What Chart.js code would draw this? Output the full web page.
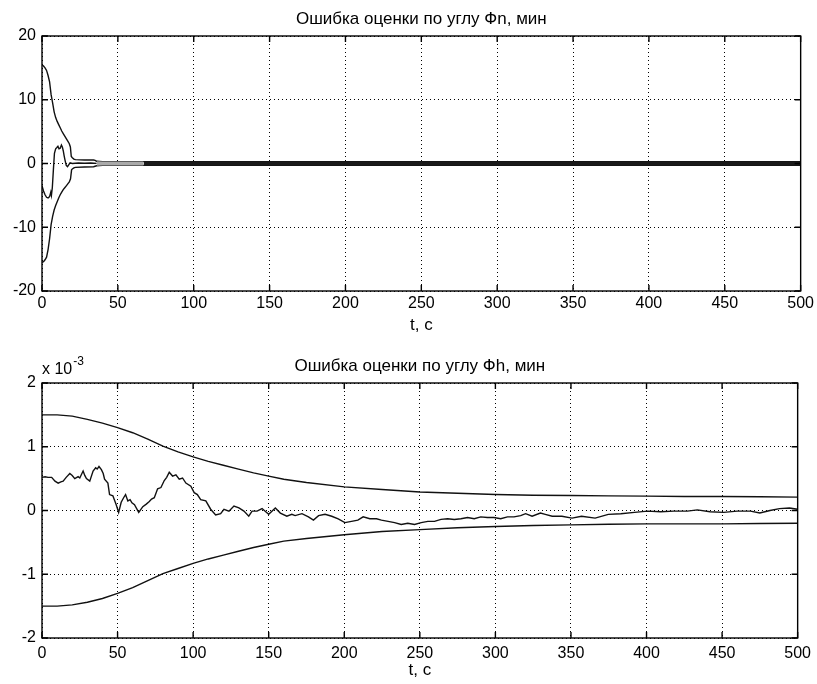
<!DOCTYPE html>
<html>
<head>
<meta charset="utf-8">
<script src="https://cdn.jsdelivr.net/npm/chart.js@4/dist/chart.umd.min.js"></script>
<style>
  html, body { margin: 0; padding: 0; background: #fff; }
  #wrap { position: relative; width: 817px; height: 684px; }
  #wrap canvas { position: absolute; left: 0; }
</style>
</head>
<body>
<div id="wrap">
  <canvas id="phiN" width="817" height="342" style="top:0"></canvas>
  <canvas id="phiH" width="817" height="342" style="top:342px"></canvas>
</div>
<script>
// ---- Фn: estimation error and its ±bounds, minutes ----
const nBoundT  = [0, 1, 2, 3, 4, 5, 6, 7, 8, 9, 10, 11, 12, 13, 14, 15, 16, 17, 18, 18.7, 19.3, 20, 21, 22, 28, 34, 35, 36, 40, 45, 67, 100, 200, 300, 400, 500];
const nUpper   = [15.5, 15.3, 15.0, 14.6, 13.8, 12.8, 10.8, 9.5, 8.1, 7.2, 6.6, 6.1, 5.6, 5.1, 4.7, 4.3, 3.9, 3.5, 3.1, 2.6, 1.1, 0.9, 0.7, 0.6, 0.55, 0.55, 0.5, 0.35, 0.3, 0.3, 0.3, 0.3, 0.3, 0.3, 0.3, 0.3];
const nLowerT  = [0, 1, 2, 3, 4, 5, 6, 7, 8, 9, 10, 11, 12, 13, 14, 15, 16, 17, 18, 18.8, 19.5, 20, 21, 22, 28, 34, 36, 40, 45, 67, 100, 200, 300, 400, 500];
const nLower   = [-15.5, -15.4, -15.1, -14.7, -13.5, -11.8, -9.6, -8.3, -7.3, -6.6, -6.0, -5.4, -4.9, -4.5, -4.1, -3.8, -3.5, -3.2, -2.9, -2.4, -1.0, -0.85, -0.7, -0.6, -0.55, -0.5, -0.35, -0.3, -0.3, -0.3, -0.3, -0.3, -0.3, -0.3, -0.3];
const nErrT    = [0, 1, 2, 3, 4, 5, 5.8, 6.2, 6.8, 7.5, 8.2, 9, 9.8, 10.5, 11.2, 12, 12.8, 13.4, 14, 14.6, 15.2, 16, 16.8, 17.6, 18.5, 20, 24, 28, 32, 36];
const nErr     = [-3.5, -4.3, -4.9, -5.3, -5.4, -5.2, -4.5, -5.0, -3.8, -1.0, 1.6, 2.3, 2.5, 2.7, 2.3, 2.4, 2.9, 2.6, 2.0, 1.2, 0.5, -0.3, -0.5, -0.2, 0.1, 0.0, 0.08, 0.05, 0.08, 0.02];

// ---- Фh: estimation error and its ±bounds, units of 10^-3 minutes ----
const hBoundT  = [0, 10, 20, 30, 40, 50, 60, 70, 80, 90, 100, 110, 120, 130, 140, 150, 160, 175, 200, 225, 250, 275, 300, 325, 350, 375, 400, 425, 450, 475, 500];
const hUpper   = [1.5, 1.5, 1.48, 1.43, 1.37, 1.3, 1.22, 1.12, 1.01, 0.92, 0.84, 0.77, 0.71, 0.65, 0.59, 0.54, 0.49, 0.44, 0.37, 0.33, 0.29, 0.27, 0.25, 0.24, 0.235, 0.23, 0.225, 0.22, 0.22, 0.215, 0.21];
const hLower   = [-1.5, -1.5, -1.48, -1.44, -1.38, -1.3, -1.21, -1.1, -0.99, -0.91, -0.83, -0.76, -0.7, -0.64, -0.58, -0.53, -0.48, -0.44, -0.38, -0.33, -0.3, -0.27, -0.25, -0.235, -0.225, -0.215, -0.21, -0.21, -0.21, -0.205, -0.2];
const hErrT    = [0, 2, 4, 6.4, 8.6, 10.7, 12.5, 14, 16, 18.4, 20, 21.7, 23.9, 25, 27.2, 28.3, 29.4, 31.6, 33.8, 35.5, 36.5, 37.7, 39.3, 40.5, 41.4, 43.6, 44.7, 46.9, 48, 49.1,
                  50.7, 52.4, 54, 55.3, 56.8, 58.3, 59.5, 61.2, 64, 66.7, 69, 71, 72.5, 74.3, 76.5, 78.7, 80.9, 82.5, 84.2, 86.4, 88.6, 90.8, 93, 95.2, 98.5,
                  100.7, 102.8, 105, 108.4, 111.6, 114.9, 118.2, 120.4, 123.7, 127, 130.3, 133.6, 136.8, 139, 142.3, 145.6, 150, 154.4, 157.7, 162, 165.3, 167.5, 172, 176.3, 179.6,
                  183, 187.3, 191.7, 196, 200.4, 204.8, 209, 212.5, 216.9, 221.3, 224.6, 229, 233.3, 237.7, 242, 246.5, 250.9, 255.3, 259.7, 264, 268.4, 272.8, 277.2, 281.6, 286, 290.3,
                  294.7, 299, 303.5, 308, 312.3, 316.7, 320, 324.3, 329.8, 333, 337.6, 344, 350.7, 357, 366, 374.7, 383, 392, 400.7, 409.4, 418, 427, 433.6, 442, 451, 460, 468.8, 475, 481.7, 488, 494.6, 500];
const hErr     = [0.52, 0.53, 0.52, 0.52, 0.46, 0.43, 0.45, 0.46, 0.52, 0.58, 0.55, 0.5, 0.53, 0.51, 0.62, 0.55, 0.5, 0.46, 0.62, 0.67, 0.65, 0.69, 0.64, 0.58, 0.49, 0.43, 0.25, 0.23, 0.16, 0.09,
                  -0.03, 0.13, 0.2, 0.25, 0.15, 0.17, 0.12, 0.09, -0.03, 0.06, 0.1, 0.14, 0.18, 0.2, 0.34, 0.36, 0.47, 0.52, 0.6, 0.54, 0.56, 0.49, 0.51, 0.43, 0.38,
                  0.28, 0.25, 0.17, 0.15, 0.02, -0.07, -0.05, 0.02, -0.01, 0.07, 0.04, -0.01, -0.09, -0.01, -0.01, 0.03, -0.06, 0.04, -0.04, -0.09, -0.06, -0.08, -0.05, -0.1, -0.15,
                  -0.08, -0.06, -0.09, -0.13, -0.19, -0.17, -0.15, -0.1, -0.13, -0.13, -0.15, -0.17, -0.19, -0.22, -0.2, -0.22, -0.19, -0.17, -0.17, -0.14, -0.13, -0.14, -0.13, -0.11, -0.13, -0.1,
                  -0.11, -0.11, -0.13, -0.1, -0.1, -0.08, -0.05, -0.09, -0.04, -0.06, -0.09, -0.09, -0.12, -0.09, -0.12, -0.06, -0.05, -0.03, -0.01, -0.02, -0.01, -0.01, 0.01, -0.02, -0.03, -0.01, -0.01, -0.04, 0.0, 0.03, 0.04, 0.02];

// ---- axes ----
const timeTicks = [0, 50, 100, 150, 200, 250, 300, 350, 400, 450, 500];
const nTicks = [-20, -10, 0, 10, 20];
const hTicks = [-2, -1, 0, 1, 2];

const FONT = '"Liberation Sans", Arial, sans-serif';
Chart.defaults.font.family = FONT;
Chart.defaults.font.size = 16;
Chart.defaults.color = '#000';

const pts = (ts, vs) => ts.map((t, i) => ({ x: t, y: vs[i] }));
const within = (ts, vs, a, b) => pts(ts, vs).filter(p => p.x >= a && p.x <= b);

// box around the plot area and MATLAB-style inward tick marks
const frameTicks = {
  id: 'frameTicks',
  afterDatasetsDraw(chart) {
    const { ctx, chartArea: a, scales: { x, y } } = chart;
    ctx.save();
    ctx.strokeStyle = '#000';
    ctx.lineWidth = 1.4;
    ctx.strokeRect(a.left, a.top, a.right - a.left, a.bottom - a.top);
    ctx.beginPath();
    x.ticks.forEach(t => {
      const p = x.getPixelForValue(t.value);
      ctx.moveTo(p, a.top); ctx.lineTo(p, a.top + 6);
      ctx.moveTo(p, a.bottom); ctx.lineTo(p, a.bottom - 6);
    });
    y.ticks.forEach(t => {
      const p = y.getPixelForValue(t.value);
      ctx.moveTo(a.left, p); ctx.lineTo(a.left + 6, p);
      ctx.moveTo(a.right, p); ctx.lineTo(a.right - 6, p);
    });
    ctx.stroke();
    ctx.restore();
  }
};

// plot caption and optional exponent note
const caption = {
  id: 'caption',
  afterDraw(chart, args, opts) {
    const { ctx, chartArea: a } = chart;
    ctx.save();
    ctx.fillStyle = '#000';
    ctx.font = '17px ' + FONT;
    ctx.textBaseline = 'alphabetic';
    ctx.textAlign = 'center';
    ctx.fillText(opts.text, (a.left + a.right) / 2, opts.y);
    if (opts.exponent) {
      ctx.font = '16px ' + FONT;
      ctx.textAlign = 'left';
      const base = 'x 10';
      ctx.fillText(base, a.left, opts.expY);
      const w = ctx.measureText(base).width;
      ctx.font = '12px ' + FONT;
      ctx.fillText(opts.exponent, a.left + w + 1, opts.expY - 9);
    }
    ctx.restore();
  }
};

const lineDs = (data) => ({
  data, borderColor: '#111', borderWidth: 1.4, pointRadius: 0, fill: false, tension: 0
});
const bandDs = (data, color, fill) => ({
  data, borderColor: color, backgroundColor: color, borderWidth: 0, pointRadius: 0, fill, tension: 0
});

function build(id, cfg) {
  return new Chart(document.getElementById(id), {
    type: 'line',
    data: { datasets: cfg.datasets },
    options: {
      responsive: false,
      animation: false,
      events: [],
      layout: { padding: cfg.padding },
      plugins: {
        legend: { display: false },
        tooltip: { enabled: false },
        caption: cfg.caption
      },
      scales: {
        x: {
          type: 'linear', min: 0, max: 500,
          afterBuildTicks: s => { s.ticks = timeTicks.map(v => ({ value: v })); },
          afterFit: s => { s.height = cfg.xHeight; },
          ticks: { padding: cfg.xPad, maxRotation: 0, color: '#000' },
          grid: { color: '#000', lineWidth: 1, drawTicks: false },
          border: { display: false, dash: [1, 3] },
          title: { display: true, text: 't, c', font: { size: 17 }, padding: { top: 0, bottom: cfg.titlePad }, color: '#000' }
        },
        y: {
          type: 'linear', min: cfg.yMin, max: cfg.yMax,
          afterBuildTicks: s => { s.ticks = cfg.yTicks.map(v => ({ value: v })); },
          afterFit: s => { s.width = 42; },
          ticks: { padding: 6, color: '#000' },
          grid: { color: '#000', lineWidth: 1, drawTicks: false },
          border: { display: false, dash: [1, 3] }
        }
      }
    },
    plugins: [frameTicks, caption]
  });
}

build('phiN', {
  padding: { top: 36, right: 14, left: 0, bottom: 0 },
  xHeight: 51, xPad: 3, titlePad: 6,
  yMin: -20, yMax: 20, yTicks: nTicks,
  caption: { text: 'Ошибка оценки по углу Фn, мин', y: 24 },
  datasets: [
    bandDs(within(nBoundT, nUpper, 36, 67), '#a9a9a9', '+1'),
    bandDs(within(nLowerT, nLower, 36, 67), '#a9a9a9', false),
    bandDs(within(nBoundT, nUpper, 66, 500), '#1a1a1a', '+1'),
    bandDs(within(nLowerT, nLower, 66, 500), '#1a1a1a', false),
    lineDs(pts(nBoundT, nUpper)),
    lineDs(pts(nLowerT, nLower)),
    lineDs(pts(nErrT, nErr))
  ]
});

build('phiH', {
  padding: { top: 41, right: 13, left: 0, bottom: 0 },
  xHeight: 46, xPad: 6, titlePad: 3,
  yMin: -2, yMax: 2, yTicks: hTicks,
  caption: { text: 'Ошибка оценки по углу Фh, мин', y: 29, exponent: '-3', expY: 32 },
  datasets: [
    lineDs(pts(hBoundT, hUpper)),
    lineDs(pts(hBoundT, hLower)),
    lineDs(pts(hErrT, hErr))
  ]
});
</script>
</body>
</html>
